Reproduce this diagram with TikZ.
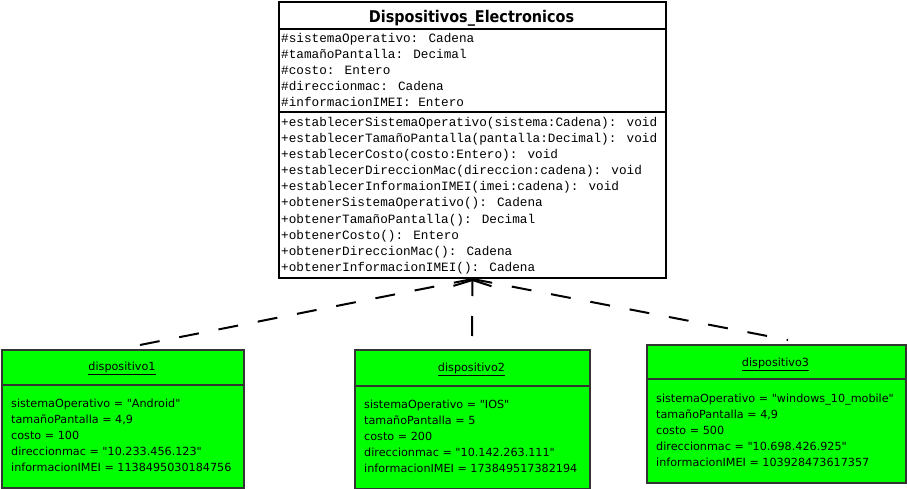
\documentclass[tikz,border=0pt]{standalone}
\usepackage{fontspec}
\setmainfont{DejaVu Sans}[Ligatures=TeXOff]
\newfontfamily\monof{Liberation Mono}
\usetikzlibrary{arrows.meta}
\definecolor{objgreen}{HTML}{00FF00}
\definecolor{objborder}{HTML}{333333}
\begin{document}
\begin{tikzpicture}[x=1pt,y=-1pt,
  clsbox/.style={draw=black, line width=2pt, fill=white, anchor=north west, inner sep=0pt},
  objbox/.style={draw=objborder, line width=2pt, fill=objgreen, anchor=north west, inner sep=0pt},
  sep/.style={line width=2pt},
  objsep/.style={draw=objborder, line width=2pt},
  mono/.style={anchor=base west, inner sep=0pt, font=\monof\fontsize{12.7}{15}\selectfont},
  attr/.style={anchor=base west, inner sep=0pt, font=\fontsize{11.2}{14}\selectfont},
  objname/.style={anchor=base, inner sep=0pt, font=\fontsize{11.2}{14}\selectfont},
  conn/.style={line width=2pt, dash pattern=on 20pt off 20pt},
  realize/.style={-{Straight Barb[length=6pt,width=38pt,line width=2pt]}}
]
\useasboundingbox (0,0) rectangle (907,489);

% ---------- class ----------
\node[clsbox, minimum width=387pt, minimum height=276pt] (cls) at (278,1) {};
\draw[sep] (278,29) -- (665,29);
\draw[sep] (278,112) -- (665,112);
\node[anchor=base, inner sep=0pt, font=\bfseries\fontsize{14.4}{17}\selectfont] (title) at (471.5,23) {\scalebox{1}[1.12]{Dispositivos\_Electronicos}};

\node[mono] (a1) at (281,43) {\#sistemaOperativo: Cadena};
\node[mono] (a2) at (281,59) {\#tamañoPantalla: Decimal};
\node[mono] (a3) at (281,75) {\#costo: Entero};
\node[mono] (a4) at (281,91) {\#direccionmac: Cadena};
\node[mono] (a5) at (281,107) {\#informacionIMEI: Entero};

\node[mono] (m1) at (281,127) {+establecerSistemaOperativo(sistema:Cadena): void};
\node[mono] (m2) at (281,143) {+establecerTamañoPantalla(pantalla:Decimal): void};
\node[mono] (m3) at (281,159) {+establecerCosto(costo:Entero): void};
\node[mono] (m4) at (281,175) {+establecerDireccionMac(direccion:cadena): void};
\node[mono] (m5) at (281,191) {+establecerInformaionIMEI(imei:cadena): void};
\node[mono] (m6) at (281,207) {+obtenerSistemaOperativo(): Cadena};
\node[mono] (m7) at (281,223) {+obtenerTamañoPantalla(): Decimal};
\node[mono] (m8) at (281,239) {+obtenerCosto(): Entero};
\node[mono] (m9) at (281,255) {+obtenerDireccionMac(): Cadena};
\node[mono] (m10) at (281,271) {+obtenerInformacionIMEI(): Cadena};

% ---------- object 1 ----------
\node[objbox, minimum width=242pt, minimum height=138pt] (d1) at (1,348.5) {};
\draw[objsep] (1,384.5) -- (243,384.5);
\node[objname] (d1name) at (122,370) {\underline{dispositivo1}};
\node[attr] (d1a) at (11,407) {sistemaOperativo = "Android"};
\node[attr] (d1b) at (11,423) {tamañoPantalla = 4,9};
\node[attr] (d1c) at (11,439) {costo = 100};
\node[attr] (d1d) at (11,455) {direccionmac = "10.233.456.123"};
\node[attr] (d1e) at (11,471) {informacionIMEI = 1138495030184756};

% ---------- object 2 ----------
\node[objbox, minimum width=235pt, minimum height=139pt] (d2) at (354,349) {};
\draw[objsep] (354,386) -- (589,386);
\node[objname] (d2name) at (471.5,371.5) {\underline{dispositivo2}};
\node[attr] (d2a) at (364,408) {sistemaOperativo = "IOS"};
\node[attr] (d2b) at (364,424) {tamañoPantalla = 5};
\node[attr] (d2c) at (364,440) {costo = 200};
\node[attr] (d2d) at (364,456) {direccionmac = "10.142.263.111"};
\node[attr] (d2e) at (364,472) {informacionIMEI = 173849517382194};

% ---------- object 3 ----------
\node[objbox, minimum width=259pt, minimum height=138pt] (d3) at (646,343.5) {};
\draw[objsep] (646,378.5) -- (905,378.5);
\node[objname] (d3name) at (775.5,366) {\underline{dispositivo3}};
\node[attr] (d3a) at (656,402) {sistemaOperativo = "windows\_10\_mobile"};
\node[attr] (d3b) at (656,418) {tamañoPantalla = 4,9};
\node[attr] (d3c) at (656,434) {costo = 500};
\node[attr] (d3d) at (656,450) {direccionmac = "10.698.426.925"};
\node[attr] (d3e) at (656,466) {informacionIMEI = 103928473617357};

% ---------- connectors ----------
\coordinate (apex) at (cls.south);
\coordinate (e1) at (140,345);
\coordinate (e2) at (472,336);
\coordinate (e3) at (788,340);
\draw[conn] (e1) -- (apex);
\draw[conn, realize] (e2) -- (apex);
\draw[conn] (apex) -- (e3);
\end{tikzpicture}
\end{document}
